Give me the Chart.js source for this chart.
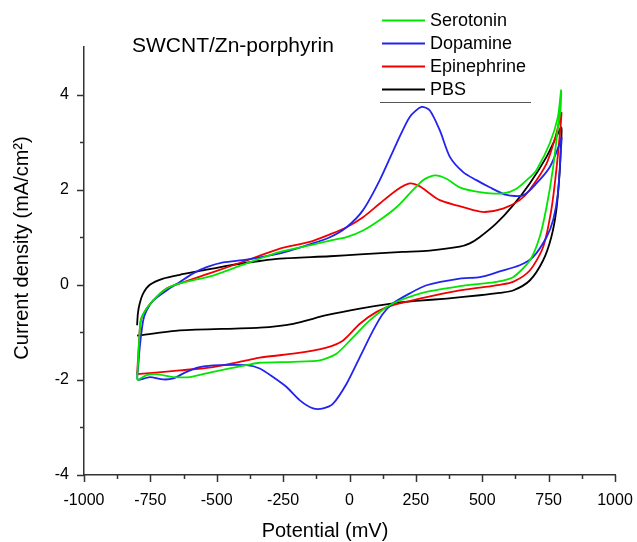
<!DOCTYPE html>
<html>
<head>
<meta charset="utf-8">
<script src="https://cdn.jsdelivr.net/npm/chart.js@4.4.1/dist/chart.umd.min.js"></script>
<style>
  html, body { margin: 0; padding: 0; background: #fff; }
  #cv { display: block; }
</style>
</head>
<body>
<canvas id="cv" width="637" height="542"></canvas>
<script>
// Serotonin (green)
const serotoninV = [-800, -797, -793, -786, -764, -727, -689, -639, -511, -388, -262, -150, -74, -11, 51, 114, 177, 227, 277, 321, 365, 415, 491, 578, 629, 679, 704, 754, 785, 797,
  795, 785, 767, 742, 716, 679, 616, 553, 491, 415, 290, 189, 139, 76, 14, -49, -112, -212, -338, -388, -514, -601, -664, -727, -764, -796, -800];
const serotoninJ = [-2.0, -1.7, -1.24, -0.75, -0.5, -0.26, -0.08, 0.03, 0.2, 0.45, 0.69, 0.83, 0.93, 1.0, 1.14, 1.36, 1.63, 1.92, 2.2, 2.3, 2.23, 2.05, 1.95, 1.92, 2.02, 2.26, 2.41, 2.97, 3.53, 4.09,
  3.7, 3.31, 2.47, 1.63, 1.0, 0.51, 0.16, 0.06, 0.02, -0.03, -0.15, -0.33, -0.47, -0.75, -1.1, -1.45, -1.59, -1.62, -1.64, -1.69, -1.83, -1.94, -1.94, -1.88, -1.9, -2.0, -2.0];

// Dopamine (blue)
const dopamineV = [-800, -796, -790, -777, -764, -739, -689, -639, -589, -538, -476, -388, -262, -150, -74, -11, 51, 114, 177, 227, 271, 302, 340, 378, 428, 478, 528, 591, 654, 704, 754, 792, 799,
  797, 785, 767, 742, 691, 641, 566, 491, 415, 290, 227, 164, 126, 89, 39, -11, -62, -99, -137, -187, -237, -288, -338, -388, -488, -564, -614, -664, -702, -752, -796, -800];
const dopamineJ = [-1.95, -1.73, -1.31, -0.75, -0.54, -0.33, -0.12, 0.06, 0.24, 0.37, 0.47, 0.53, 0.66, 0.85, 1.0, 1.21, 1.57, 2.2, 2.97, 3.53, 3.74, 3.67, 3.25, 2.69, 2.37, 2.2, 2.05, 1.89, 1.88, 2.13, 2.47, 2.97, 3.1,
  2.9, 1.92, 1.36, 1.0, 0.58, 0.41, 0.28, 0.16, 0.13, -0.01, -0.18, -0.39, -0.61, -0.96, -1.52, -2.08, -2.5, -2.6, -2.6, -2.43, -2.15, -1.94, -1.76, -1.69, -1.69, -1.73, -1.83, -1.97, -1.99, -1.94, -2.0, -1.95];

// Epinephrine (red)
const epinephrineV = [-800, -797, -793, -786, -764, -727, -689, -639, -511, -388, -262, -150, -74, -11, 51, 114, 177, 227, 265, 302, 340, 403, 466, 510, 578, 641, 679, 742, 779, 798,
  796, 779, 760, 729, 679, 616, 566, 491, 415, 290, 164, 102, 39, -24, -87, -212, -338, -388, -514, -639, -800];
const epinephrineJ = [-1.88, -1.6, -1.24, -0.75, -0.5, -0.26, -0.08, 0.03, 0.27, 0.51, 0.76, 0.9, 1.06, 1.21, 1.42, 1.71, 1.99, 2.13, 2.07, 1.92, 1.78, 1.67, 1.57, 1.53, 1.6, 1.78, 2.0, 2.55, 3.18, 3.62,
  3.4, 2.41, 1.57, 0.79, 0.3, 0.06, 0.0, -0.06, -0.12, -0.26, -0.43, -0.57, -0.82, -1.17, -1.32, -1.45, -1.53, -1.59, -1.73, -1.8, -1.88];

// PBS (black)
const pbsV = [-800, -797, -790, -777, -752, -702, -639, -564, -451, -338, -262, -74, 39, 200, 302, 415, 453, 490, 553, 616, 679, 742, 785, 797,
  799, 796, 792, 779, 760, 729, 679, 616, 565, 491, 366, 250, 164, 39, -87, -212, -338, -639, -800];
const pbsJ = [-0.85, -0.6, -0.39, -0.18, 0, 0.13, 0.21, 0.29, 0.41, 0.5, 0.55, 0.6, 0.64, 0.69, 0.72, 0.8, 0.87, 1.0, 1.29, 1.67, 2.13, 2.69, 3.18, 3.31,
  3.25, 2.9, 2.4, 1.57, 1.0, 0.51, 0.09, -0.12, -0.17, -0.22, -0.29, -0.34, -0.39, -0.5, -0.64, -0.82, -0.9, -0.96, -1.07];

const seriesNames = ["Serotonin", "Dopamine", "Epinephrine", "PBS"];
const seriesColors = ["#00e600", "#2323f0", "#f00000", "#000000"];
const xTicks = [-1000, -750, -500, -250, 0, 250, 500, 750, 1000];
const yTicks = [-4, -2, 0, 2, 4];

const FONT = "Arial, 'Liberation Sans', sans-serif";

function toPoints(xs, ys) {
  return xs.map((x, i) => ({ x: x, y: ys[i] }));
}

const allData = [
  toPoints(serotoninV, serotoninJ),
  toPoints(dopamineV, dopamineJ),
  toPoints(epinephrineV, epinephrineJ),
  toPoints(pbsV, pbsJ),
];

// tick marks, axis titles, legend and label drawn by hand
const decorations = {
  id: "decorations",
  afterDraw(chart) {
    const c = chart.ctx;
    const xs = chart.scales.x;
    const ys = chart.scales.y;
    const area = chart.chartArea;
    c.save();
    c.strokeStyle = "#333";
    c.lineWidth = 1.5;
    // x ticks: major every 250, minor in between
    for (let v = -1000; v <= 1000; v += 125) {
      const px = Math.round(xs.getPixelForValue(v)) + 0.5;
      const len = xTicks.includes(v) ? 7 : 4;
      c.beginPath();
      c.moveTo(px, area.bottom);
      c.lineTo(px, area.bottom + len);
      c.stroke();
    }
    // y ticks: major every 2, minor in between
    for (let v = -4; v <= 4; v += 1) {
      const py = Math.round(ys.getPixelForValue(v)) + 0.5;
      const len = yTicks.includes(v) ? 7 : 4;
      c.beginPath();
      c.moveTo(area.left, py);
      c.lineTo(area.left - len, py);
      c.stroke();
    }

    c.fillStyle = "#000";
    c.textBaseline = "middle";

    // axis titles
    c.font = "20px " + FONT;
    c.textAlign = "center";
    c.fillText("Potential (mV)", 325, 531);
    c.save();
    c.translate(22, 248);
    c.rotate(-Math.PI / 2);
    c.fillText("Current density (mA/cm\u00B2)", 0, 0);
    c.restore();

    // label in the plot
    c.font = "21px " + FONT;
    c.textAlign = "left";
    c.fillText("SWCNT/Zn-porphyrin", 132, 46);

    // legend
    c.font = "18px " + FONT;
    seriesNames.forEach((name, i) => {
      const y = 20 + i * 23;
      c.strokeStyle = seriesColors[i];
      c.lineWidth = 2;
      c.beginPath();
      c.moveTo(382, y + 0.5);
      c.lineTo(425, y + 0.5);
      c.stroke();
      c.fillText(name, 430, y + 1);
    });
    c.strokeStyle = "#555";
    c.lineWidth = 1;
    c.beginPath();
    c.moveTo(380, 102.5);
    c.lineTo(531, 102.5);
    c.stroke();
    c.restore();
  },
};

const ctx = document.getElementById("cv").getContext("2d");

new Chart(ctx, {
  type: "scatter",
  data: {
    datasets: seriesNames.map((name, i) => ({
      label: name,
      data: allData[i],
      showLine: true,
      borderColor: seriesColors[i],
      backgroundColor: seriesColors[i],
      borderWidth: 1.8,
      pointRadius: 0,
      tension: 0.25,
      fill: false,
    })),
  },
  options: {
    responsive: false,
    animation: false,
    layout: { padding: { top: 47, right: 22, left: 0, bottom: 0 } },
    plugins: {
      legend: { display: false },
      tooltip: { enabled: false },
    },
    scales: {
      x: {
        type: "linear",
        min: -1000,
        max: 1000,
        afterFit: (s) => { s.height = 67; s.paddingLeft = 0; s.paddingRight = 0; },
        afterBuildTicks: (s) => { s.ticks = xTicks.map((v) => ({ value: v })); },
        grid: { display: false },
        border: { display: true, color: "#333", width: 1.5 },
        ticks: {
          color: "#000",
          font: { family: FONT, size: 16 },
          padding: 8,
          maxRotation: 0,
          autoSkip: false,
          callback: (v) => String(v),
        },
      },
      y: {
        type: "linear",
        min: -4,
        max: 5,
        afterFit: (s) => { s.width = 84; s.paddingTop = 0; s.paddingBottom = 0; },
        afterBuildTicks: (s) => { s.ticks = yTicks.map((v) => ({ value: v })); },
        grid: { display: false },
        border: { display: true, color: "#333", width: 1.5 },
        ticks: {
          color: "#000",
          font: { family: FONT, size: 16 },
          padding: 7,
          callback: (v) => String(v),
        },
      },
    },
  },
  plugins: [decorations],
});
</script>
</body>
</html>
